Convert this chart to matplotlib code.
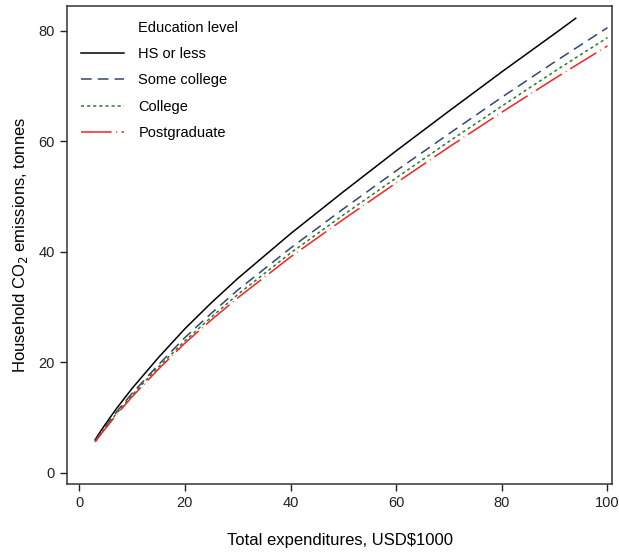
import matplotlib

matplotlib.use("Agg")
import matplotlib.pyplot as plt
from matplotlib.lines import Line2D

plt.rcParams["font.family"] = ["Liberation Sans", "DejaVu Sans"]

# values
x_hs = [3, 4, 5, 7, 10, 15, 20, 25, 30, 40, 50, 60, 70, 80, 90, 94]
y_hs = [6.0, 7.5, 8.9, 11.6, 15.3, 20.9, 26.1, 30.8, 35.2, 43.3, 50.9, 58.3, 65.5, 72.6, 79.5, 82.3]

x_grp = [3, 4, 5, 7, 10, 15, 20, 25, 30, 40, 50, 60, 70, 80, 90, 100]
y_some = [5.8, 7.2, 8.5, 11.0, 14.4, 19.6, 24.5, 28.9, 33.1, 40.7, 47.8, 54.7, 61.4, 68.0, 74.4, 80.6]
y_college = [5.7, 7.0, 8.3, 10.7, 14.1, 19.2, 23.9, 28.2, 32.3, 39.8, 46.7, 53.4, 60.0, 66.4, 72.7, 78.8]
y_post = [5.6, 6.9, 8.1, 10.5, 13.8, 18.8, 23.5, 27.7, 31.7, 39.1, 45.9, 52.5, 59.0, 65.3, 71.4, 77.3]

x_ticks = [0, 20, 40, 60, 80, 100]
y_ticks = [0, 20, 40, 60, 80]

fig = plt.figure(figsize=(6.19, 5.56), dpi=100)
ax = fig.add_axes([0.108, 0.1295, 0.881, 0.8595])

ax.plot(x_hs, y_hs, color="black", lw=1.1, label="HS or less")
ax.plot(x_grp, y_some, color="#34466e", lw=1.1, dashes=(7, 4), label="Some college")
ax.plot(x_grp, y_college, color="#2a7a2a", lw=1.1, dashes=(2, 2), label="College")
ax.plot(x_grp, y_post, color="#ff2020", lw=1.1, dashes=(20, 3, 0.5, 3), label="Postgraduate")

ax.set_xlim(-2.35, 100.9)
ax.set_ylim(-2.0, 84.5)
ax.set_xticks(x_ticks)
ax.set_yticks(y_ticks)
ax.tick_params(direction="out", length=5, width=1, labelsize=10.5, colors="#222222")
for sp in ax.spines.values():
    sp.set_linewidth(1.1)
    sp.set_color("#333333")

ax.set_xlabel("Total expenditures, USD$1000", fontsize=12, labelpad=17)
ax.set_ylabel(r"Household CO$_2$ emissions, tonnes", fontsize=12, labelpad=6)

handles, labels = ax.get_legend_handles_labels()
title = Line2D([], [], color="none", label="Education level")
ax.legend([title] + handles, ["Education level"] + labels, loc="upper left",
          frameon=False, fontsize=10.5, handlelength=2.9, handletextpad=1.0,
          labelspacing=0.85, borderaxespad=0.6)

fig.savefig("out.png", dpi=100)
